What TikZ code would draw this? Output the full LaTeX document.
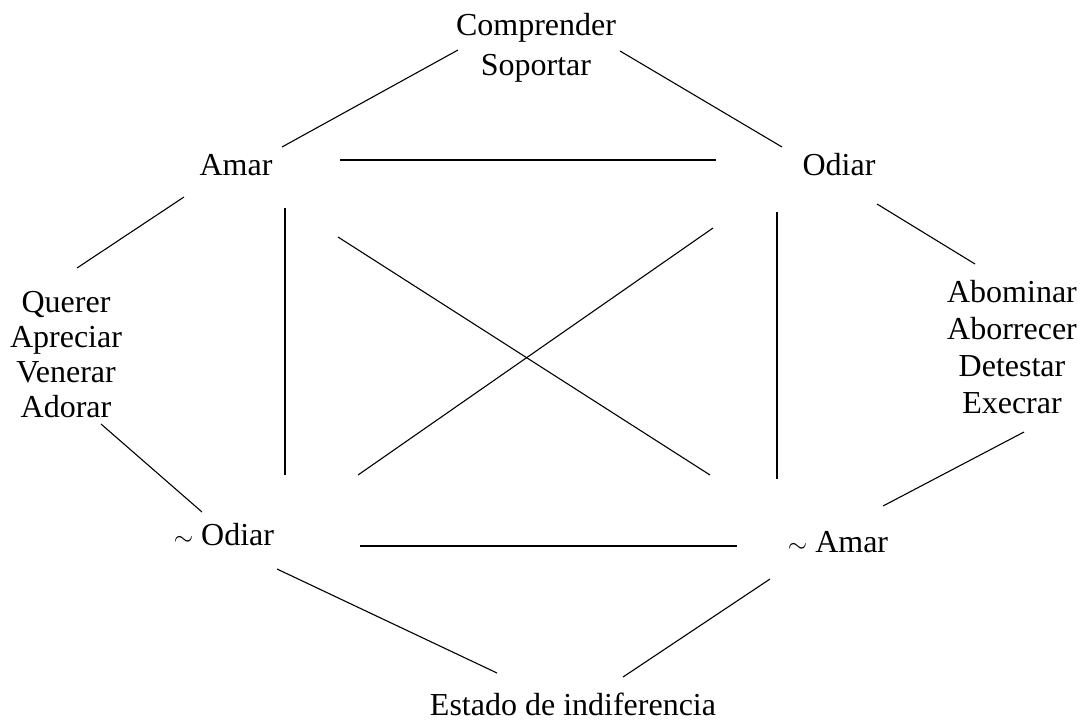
\documentclass[tikz,border=0pt]{standalone}
\usepackage{fontspec}
\setmainfont{Liberation Serif}
\usetikzlibrary{calc}
\tikzset{
  lbl/.style={inner sep=0pt, anchor=base, align=center, font=\fontsize{32}{36}\selectfont},
  conn/.style={line width=1.1pt, line cap=butt}
}
\begin{document}
\begin{tikzpicture}[x=1pt,y=-1pt]
\useasboundingbox (0,0) rectangle (1086,722);
\node[lbl] (comp) at (536,76) {Comprender\\[4pt]Soportar};
\node[lbl] (amar) at (236,176) {Amar};
\node[lbl] (odiar) at (839,176) {Odiar};
\node[lbl] (querer) at (66,417) {Querer\\[-1pt]Apreciar\\[-1pt]Venerar\\[-1pt]Adorar};
\node[lbl] (abom) at (1012,413) {Abominar\\[1pt]Aborrecer\\[1pt]Detestar\\[1pt]Execrar};
\node[lbl] (nodiar) at (224,545) {$\sim$ Odiar};
\node[lbl] (namar) at (838,552) {$\sim$ Amar};
\node[lbl] (estado) at (573,715) {Estado de indiferencia};

\draw[conn] ($(amar.base)+(46,-29)$) -- ($(comp.base)+(-78,-26)$);
\draw[conn] ($(comp.base)+(84,-25)$) -- ($(odiar.base)+(-57,-29)$);
\draw[conn] ($(amar.base)+(104,-16)$) -- ($(odiar.base)+(-123,-16)$);
\draw[conn] ($(amar.base)+(-52,21)$) -- ($(querer.base)+(11,-149)$);
\draw[conn] ($(amar.base)+(49,32)$) -- ($(nodiar.base)+(61,-70)$);
\draw[conn] ($(amar.base)+(102,61)$) -- ($(namar.base)+(-128,-77)$);
\draw[conn] ($(odiar.base)+(-126,52)$) -- ($(nodiar.base)+(134,-70)$);
\draw[conn] ($(odiar.base)+(-62,36)$) -- ($(namar.base)+(-61,-73)$);
\draw[conn] ($(odiar.base)+(38,28)$) -- ($(abom.base)+(-37,-149)$);
\draw[conn] ($(querer.base)+(35,7)$) -- ($(nodiar.base)+(-22,-33)$);
\draw[conn] ($(abom.base)+(12,19)$) -- ($(namar.base)+(45,-46)$);
\draw[conn] ($(nodiar.base)+(136,1)$) -- ($(namar.base)+(-101,-6)$);
\draw[conn] ($(nodiar.base)+(53,24)$) -- ($(estado.base)+(-76,-42)$);
\draw[conn] ($(namar.base)+(-68,27)$) -- ($(estado.base)+(50,-38)$);
\end{tikzpicture}
\end{document}
